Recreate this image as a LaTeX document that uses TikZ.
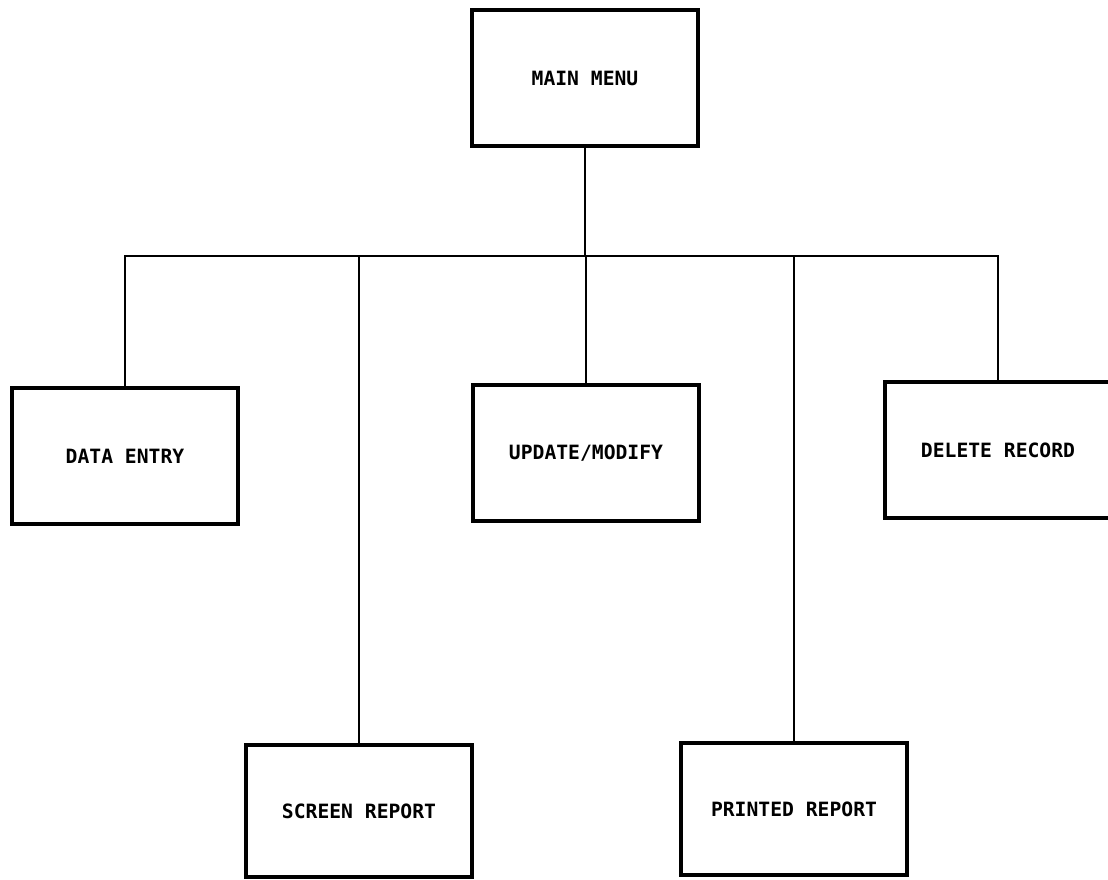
\documentclass[tikz,border=0pt]{standalone}
\usepackage{fontspec}
\setmonofont{DejaVu Sans Mono}
\usetikzlibrary{positioning,calc}
\tikzset{
  menubox/.style={rectangle, draw=black, fill=white, line width=2.6pt,
                  minimum width=5.65cm, minimum height=3.4cm, align=center,
                  font=\ttfamily\bfseries\fontsize{14}{16}\selectfont},
  link/.style={draw=black, line width=1.3pt}
}
\begin{document}
\begin{tikzpicture}[x=0.025cm, y=-0.025cm]
\useasboundingbox (0,0) rectangle (1108,879);

\node[menubox] (main) at (585,78) {MAIN MENU};

\node[menubox] (entry) at (125,456) {DATA ENTRY};
\node[menubox] (update) at (586,453) {UPDATE/MODIFY};
\node[menubox] (delete) at (998,450) {DELETE RECORD};
\node[menubox, minimum height=3.3cm] (screen) at (359,811) {SCREEN REPORT};
\node[menubox, minimum height=3.3cm] (printed) at (794,809) {PRINTED REPORT};

\coordinate (bus) at (0,256);

\draw[link] (main.south) -- (main.south |- bus);
\draw[link] (entry.north) -- (entry.north |- bus) -- (delete.north |- bus) -- (delete.north);
\draw[link] (update.north |- bus) -- (update.north);
\draw[link] (screen.north |- bus) -- (screen.north);
\draw[link] (printed.north |- bus) -- (printed.north);

\end{tikzpicture}
\end{document}
